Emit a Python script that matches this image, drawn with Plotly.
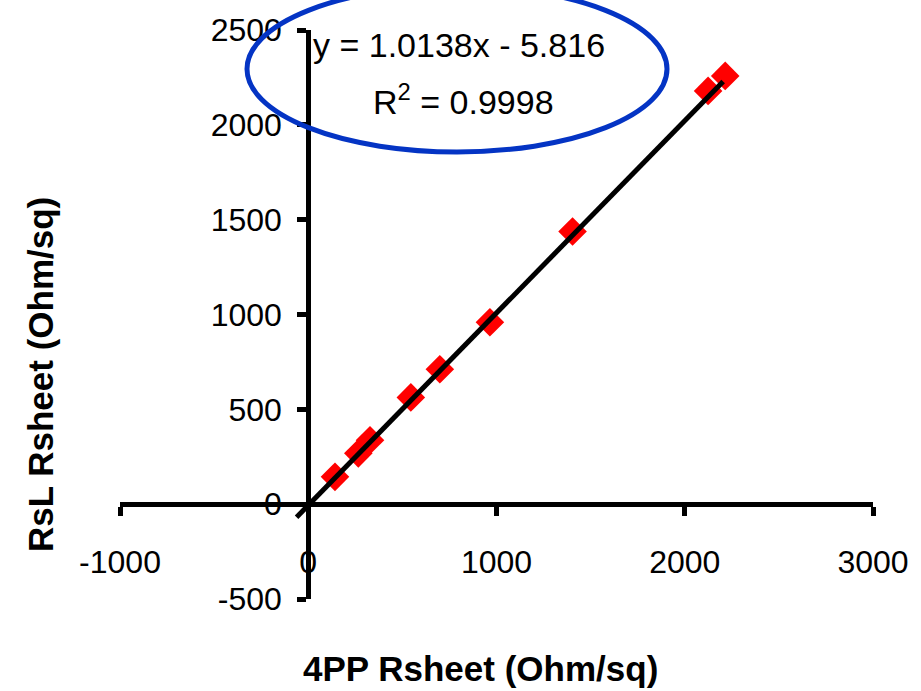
import plotly.graph_objects as go

# Data
x_4pp = [142, 266, 328, 545, 699, 965, 1404, 2124, 2215]
y_rsl = [144, 268, 337, 563, 711, 959, 1438, 2179, 2258]

slope = 1.0138
intercept = -5.816
r_squared = 0.9998
trend_x = [-62, 2204]
trend_y = [slope * v + intercept for v in trend_x]

x_ticks = [-1000, 0, 1000, 2000, 3000]
y_ticks = [-500, 0, 500, 1000, 1500, 2000, 2500]
x_range = [-1000, 3000]
y_range = [-500, 2500]

FONT = "Arial, Liberation Sans, sans-serif"
L, T, W, H = 120, 30, 753, 569


def px(xp):
    return (xp - L) / W


def py(yp):
    return (T + H - yp) / H


fig = go.Figure()
fig.add_trace(go.Scatter(
    x=x_4pp, y=y_rsl, mode="markers",
    marker=dict(symbol="diamond", size=22, color="#FF0000", line=dict(width=0)),
    showlegend=False, cliponaxis=False))
fig.add_trace(go.Scatter(
    x=trend_x, y=trend_y, mode="lines",
    line=dict(color="black", width=5),
    showlegend=False, cliponaxis=False))

fig.update_layout(
    width=921, height=691,
    margin=dict(l=L, r=921 - L - W, t=T, b=691 - T - H),
    paper_bgcolor="white", plot_bgcolor="white",
    font=dict(family=FONT, color="black", size=32),
    xaxis=dict(range=x_range, tickvals=x_ticks, ticktext=[str(v) for v in x_ticks],
               showgrid=False, zeroline=False, showline=True, linecolor="black",
               linewidth=5, ticks="outside", ticklen=9, tickwidth=5, tickcolor="black",
               anchor="free", position=(0 - y_range[0]) / (y_range[1] - y_range[0]),
               ticklabelstandoff=18, tickfont=dict(size=32, family=FONT)),
    yaxis=dict(range=y_range, tickvals=y_ticks, ticktext=[str(v) for v in y_ticks],
               showgrid=False, zeroline=False, showline=True, linecolor="black",
               linewidth=5, ticks="outside", ticklen=9, tickwidth=5, tickcolor="black",
               anchor="free", position=(0 - x_range[0]) / (x_range[1] - x_range[0]),
               ticklabelstandoff=9, tickfont=dict(size=32, family=FONT)),
)

fig.add_shape(type="circle", xref="paper", yref="paper",
              x0=px(247), x1=px(667), y0=py(152), y1=py(-14),
              line=dict(color="#0434C4", width=5), layer="above")

fig.add_annotation(xref="paper", yref="paper", x=px(459), y=py(45),
                   text=f"y = {slope}x - {abs(intercept)}", showarrow=False,
                   font=dict(size=34, family=FONT), xanchor="center", yanchor="middle")
fig.add_annotation(xref="paper", yref="paper", x=px(463), y=py(99),
                   text=f"R<sup>2</sup> = {r_squared}", showarrow=False,
                   font=dict(size=34, family=FONT), xanchor="center", yanchor="middle")

fig.add_annotation(xref="paper", yref="paper", x=px(480), y=py(668),
                   text="<b>4PP Rsheet (Ohm/sq)</b>", showarrow=False,
                   font=dict(size=35, family=FONT), xanchor="center", yanchor="middle")
fig.add_annotation(xref="paper", yref="paper", x=px(40), y=py(375),
                   text="<b>RsL Rsheet (Ohm/sq)</b>", showarrow=False, textangle=-90,
                   font=dict(size=35, family=FONT), xanchor="center", yanchor="middle")

fig.write_html("out.html", post_script="document.body.style.margin='0px';",
               config={"displayModeBar": False})
